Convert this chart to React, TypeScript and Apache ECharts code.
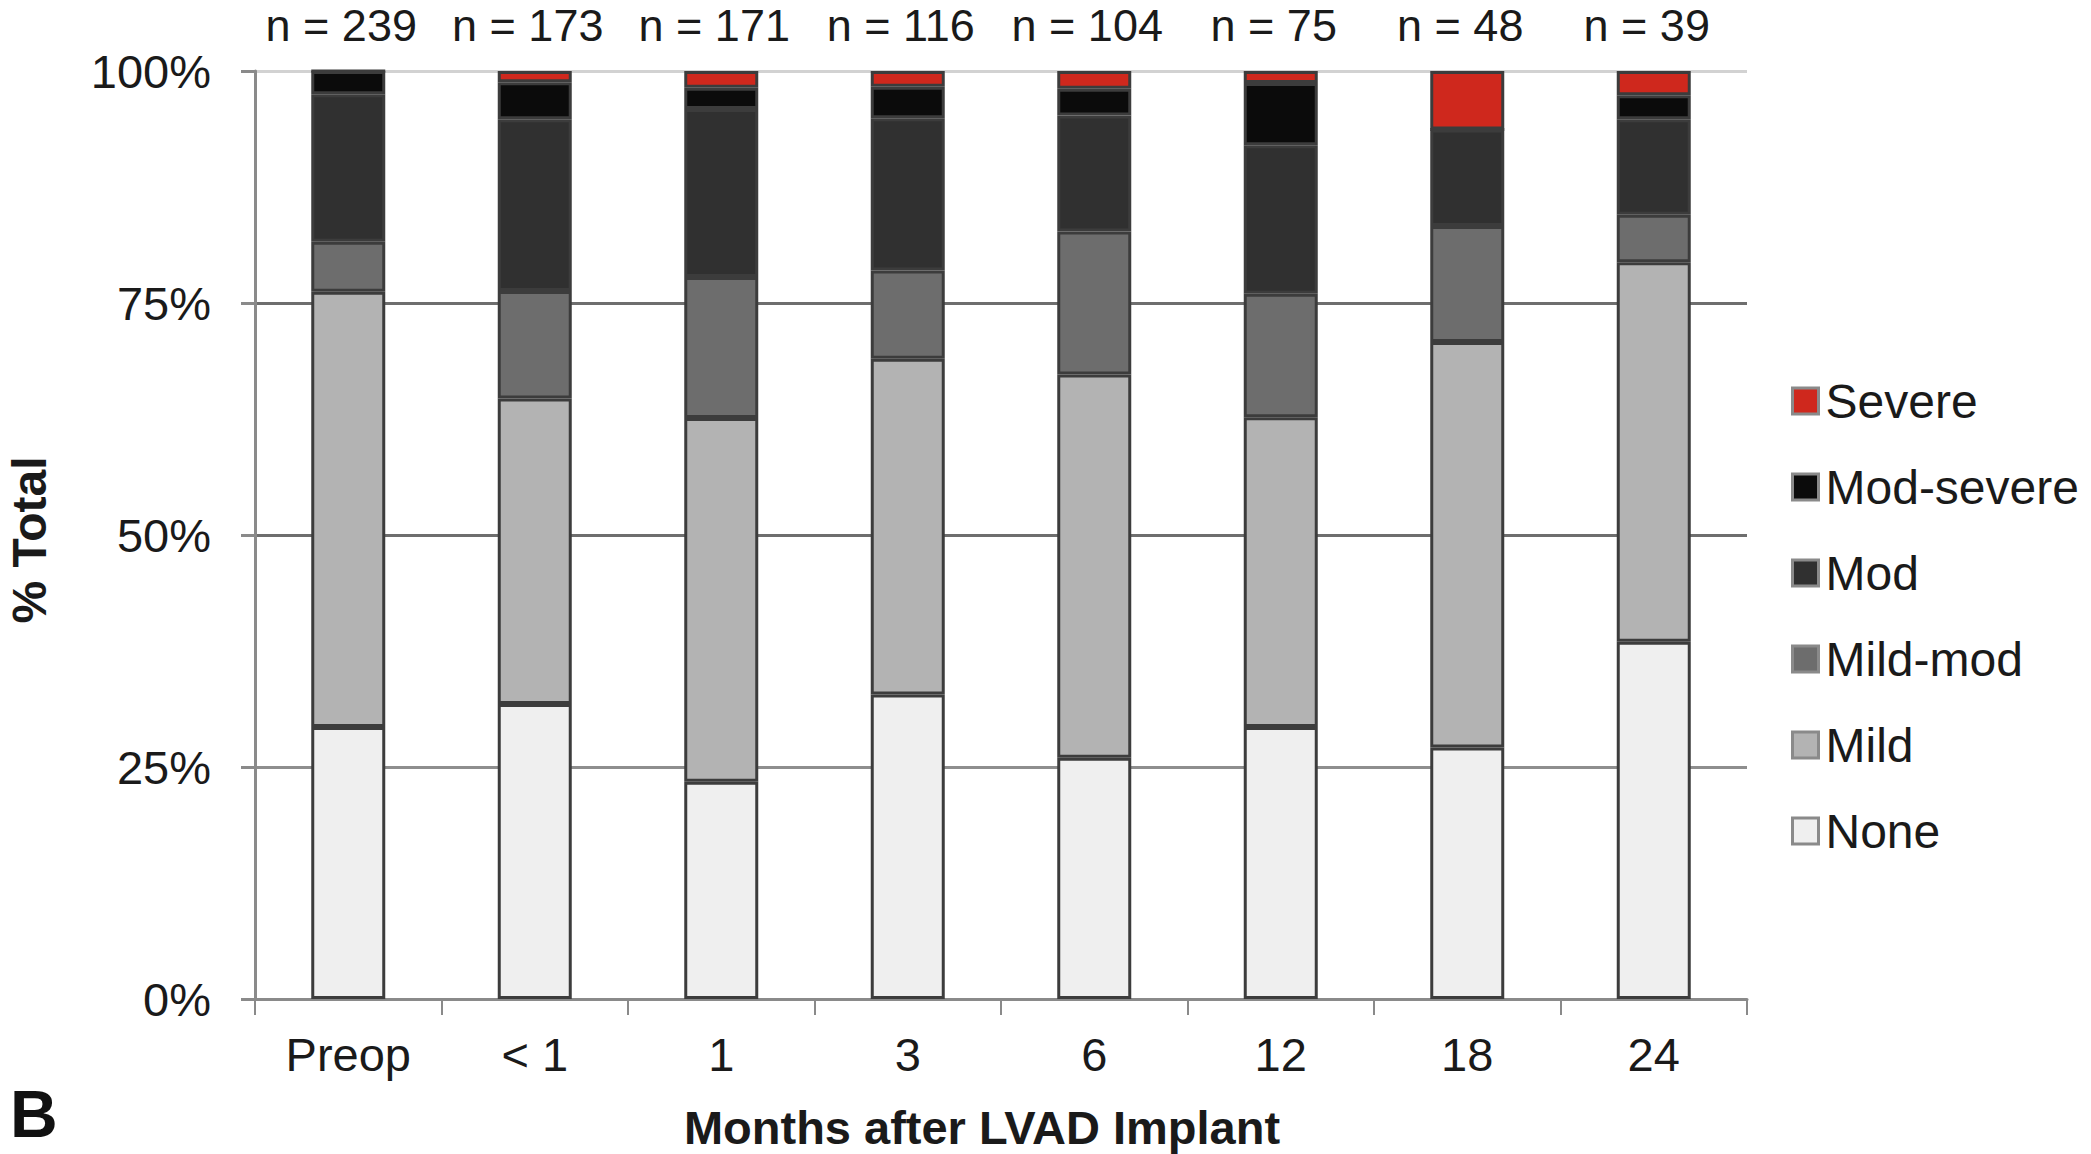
import React, { useEffect, useRef } from "react";
import * as echarts from "echarts";

const categories = ["Preop", "< 1", "1", "3", "6", "12", "18", "24"];
const nLabels = ["n = 239", "n = 173", "n = 171", "n = 116", "n = 104", "n = 75", "n = 48", "n = 39"];
const seriesNames = ["None", "Mild", "Mild-mod", "Mod", "Mod-severe", "Severe"];
const noneVals = [29.3, 31.8, 23.4, 32.8, 26.0, 29.3, 27.1, 38.5];
const mildVals = [46.9, 32.9, 39.2, 36.2, 41.3, 33.4, 43.7, 40.9];
const mildModVals = [5.4, 11.6, 15.2, 9.5, 15.4, 13.3, 12.5, 5.1];
const modVals = [15.9, 18.5, 18.1, 16.4, 12.5, 16.0, 10.4, 10.3];
const modSevereVals = [2.5, 4.0, 2.3, 3.4, 2.9, 6.7, 0, 2.6];
const severeVals = [0, 1.2, 1.8, 1.7, 1.9, 1.3, 6.3, 2.6];
const yTicks = [0, 25, 50, 75, 100];

const seriesColors = ["#efefef", "#b3b3b3", "#6d6d6d", "#303030", "#0b0b0b", "#cf281d"];
const FONT = "'Liberation Sans', Arial, sans-serif";

export default function App() {
  const ref = useRef<HTMLDivElement>(null);
  useEffect(() => {
    document.body.style.margin = "0";
    if (!ref.current) return;
    const chart = echarts.init(ref.current, null, { renderer: "svg" });
    const allVals = [noneVals, mildVals, mildModVals, modVals, modSevereVals, severeVals];
    const series = seriesNames.map((name, i) => ({
      name,
      type: "bar",
      stack: "total",
      barWidth: 74,
      data: allVals[i],
      itemStyle: { color: seriesColors[i], borderColor: "#3c3c3c", borderWidth: 3 },
    }));
    chart.setOption({
      animation: false,
      backgroundColor: "#ffffff",
      textStyle: { fontFamily: FONT },
      grid: { left: 255, right: 344, top: 71, bottom: 155, containLabel: false },
      xAxis: [
        {
          type: "category",
          data: categories,
          position: "bottom",
          axisLine: { lineStyle: { color: "#8a8a8a", width: 3 } },
          axisTick: { show: true, length: 16, lineStyle: { color: "#8a8a8a", width: 2 } },
          axisLabel: { interval: 0, fontSize: 47, color: "#1a1a1a", margin: 32, fontFamily: FONT },
        },
        {
          type: "category",
          data: nLabels,
          position: "top",
          axisLine: { show: false },
          axisTick: { show: false },
          axisLabel: { interval: 0, fontSize: 45, color: "#1a1a1a", margin: 23, fontFamily: FONT, padding: [0, 14, 0, 0] },
        },
      ],
      yAxis: {
        type: "value",
        min: yTicks[0],
        max: yTicks[yTicks.length - 1],
        interval: 25,
        axisLine: { show: true, lineStyle: { color: "#8a8a8a", width: 3 } },
        axisTick: { show: true, length: 14, lineStyle: { color: "#8a8a8a", width: 3 } },
        axisLabel: { formatter: "{value}%", fontSize: 47, color: "#1a1a1a", margin: 44, fontFamily: FONT },
        splitLine: {
          show: true,
          lineStyle: { color: ["#8a8a8a", "#8e8e8e", "#6e6e6e", "#6e6e6e", "#d2d2d2"], width: 3 },
        },
      },
      legend: {
        orient: "vertical",
        left: 1786,
        top: 372,
        itemWidth: 26,
        itemHeight: 26,
        itemGap: 38,
        icon: "rect",
        data: [...seriesNames].reverse(),
        textStyle: { fontSize: 48, color: "#1a1a1a", fontFamily: FONT, padding: [0, 0, 0, 2] },
        itemStyle: { borderColor: "#8a8a8a", borderWidth: 3 },
      },
      graphic: [
        {
          type: "text",
          x: 29,
          y: 540,
          rotation: Math.PI / 2,
          style: {
            text: "% Total",
            fontSize: 48,
            fontWeight: "bold",
            fontFamily: FONT,
            fill: "#1a1a1a",
            textAlign: "center",
            textVerticalAlign: "middle",
          },
        },
        {
          type: "text",
          x: 982,
          y: 1127,
          style: {
            text: "Months after LVAD Implant",
            fontSize: 47,
            fontWeight: "bold",
            fontFamily: FONT,
            fill: "#1a1a1a",
            textAlign: "center",
            textVerticalAlign: "middle",
          },
        },
        {
          type: "text",
          x: 10,
          y: 1114,
          style: {
            text: "B",
            fontSize: 66,
            fontWeight: "bold",
            fontFamily: FONT,
            fill: "#111111",
            textAlign: "left",
            textVerticalAlign: "middle",
          },
        },
      ],
      series,
    });
    return () => chart.dispose();
  }, []);
  return <div ref={ref} style={{ width: 2091, height: 1154 }} />;
}
